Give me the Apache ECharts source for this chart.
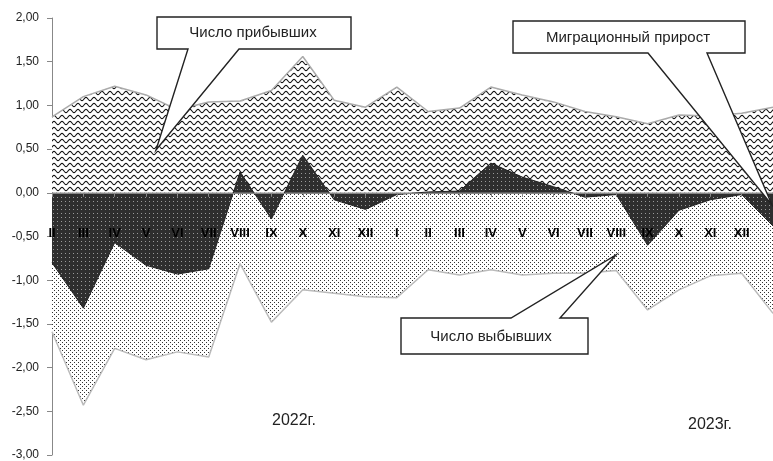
<!DOCTYPE html>
<html>
<head>
<meta charset="utf-8">
<title>Миграция</title>
<script src="https://cdn.jsdelivr.net/npm/echarts@6/dist/echarts.min.js"></script>
<style>
    html, body { margin: 0; padding: 0; background: #fff; }
    #migration_chart { width: 773px; height: 461px; }
</style>
</head>
<body>
<div id="migration_chart"></div>
<script>

// Data
// ------------------------------

var months = ['II', 'III', 'IV', 'V', 'VI', 'VII', 'VIII', 'IX', 'X', 'XI', 'XII',
              'I', 'II', 'III', 'IV', 'V', 'VI', 'VII', 'VIII', 'IX', 'X', 'XI', 'XII', 'I'];

// Число прибывших
var arrivals = [0.87, 1.10, 1.22, 1.12, 0.95, 1.04, 1.05, 1.17, 1.56, 1.06, 0.98, 1.21,
                0.93, 0.97, 1.21, 1.12, 1.04, 0.93, 0.87, 0.79, 0.89, 0.88, 0.91, 0.98];

// Число выбывших
var departures = [-1.59, -2.43, -1.78, -1.91, -1.82, -1.88, -0.81, -1.48, -1.11, -1.15, -1.19, -1.20,
                  -0.88, -0.94, -0.88, -0.94, -0.92, -0.92, -0.89, -1.34, -1.11, -0.95, -0.92, -1.38];

// Миграционный прирост
var netGrowth = [-0.80, -1.32, -0.57, -0.83, -0.93, -0.87, 0.24, -0.30, 0.43, -0.08, -0.19, -0.02,
                 0.01, 0.02, 0.34, 0.18, 0.07, -0.05, -0.02, -0.60, -0.20, -0.08, -0.02, -0.38];


// Fill patterns
// ------------------------------

var makePattern = function(w, h, draw) {
    var c = document.createElement('canvas');
    c.width = w;
    c.height = h;
    draw(c.getContext('2d'));
    return { image: c, repeat: 'repeat' };
};

// wavy lines
var wavePattern = makePattern(8, 6, function(ctx) {
    ctx.fillStyle = '#fff';
    ctx.fillRect(0, 0, 8, 6);
    ctx.strokeStyle = '#111';
    ctx.lineWidth = 1.1;
    ctx.beginPath();
    for (var x = -1; x <= 9; x += 0.5) {
        var y = 3 + 1.6 * Math.sin(2 * Math.PI * x / 8);
        if (x === -1) ctx.moveTo(x, y); else ctx.lineTo(x, y);
    }
    ctx.stroke();
});

// small dots on white
var dotPattern = makePattern(4, 4, function(ctx) {
    ctx.fillStyle = '#fff';
    ctx.fillRect(0, 0, 4, 4);
    ctx.fillStyle = '#333';
    ctx.fillRect(0, 0, 1, 1);
    ctx.fillRect(2, 2, 1, 1);
});

// light dots on dark
var darkPattern = makePattern(4, 4, function(ctx) {
    ctx.fillStyle = '#2e2e2e';
    ctx.fillRect(0, 0, 4, 4);
    ctx.fillStyle = '#9a9a9a';
    ctx.fillRect(1, 1, 1, 1);
});


// Callouts
// ------------------------------

var callout = function(points, text, cx, cy) {
    return [
        {
            type: 'polygon',
            z: 100,
            shape: { points: points },
            style: { fill: '#fff', stroke: '#222', lineWidth: 1.4 }
        },
        {
            type: 'text',
            z: 101,
            x: cx,
            y: cy,
            style: {
                text: text,
                fill: '#222',
                font: '15px Arial, "Liberation Sans", sans-serif',
                align: 'center',
                verticalAlign: 'middle'
            }
        }
    ];
};

var chartGraphics = []
    .concat(callout([[157, 17], [351, 17], [351, 49], [239, 49], [156, 150], [188, 49], [157, 49]],
        'Число прибывших', 253, 33))
    .concat(callout([[513, 21], [745, 21], [745, 53], [707, 53], [772, 205], [648, 53], [513, 53]],
        'Миграционный прирост', 628, 38))
    .concat(callout([[401, 318], [511, 318], [616, 255], [560, 318], [588, 318], [588, 354], [401, 354]],
        'Число выбывших', 491, 337))
    .concat([
        {
            type: 'text', z: 101, x: 272, y: 421,
            style: { text: '2022г.', fill: '#222', font: '16px Arial, "Liberation Sans", sans-serif', verticalAlign: 'middle' }
        },
        {
            type: 'text', z: 101, x: 688, y: 425,
            style: { text: '2023г.', fill: '#222', font: '16px Arial, "Liberation Sans", sans-serif', verticalAlign: 'middle' }
        }
    ]);


// Chart
// ------------------------------

var gridTop = 18;
var gridBottom = 6;
var chartHeight = 461;

// move the category axis up to the zero line (value range -3..2)
var plotHeight = chartHeight - gridTop - gridBottom;
var zeroOffset = -plotHeight * 3 / 5;

var chart_element = document.getElementById('migration_chart');
var chart = echarts.init(chart_element, null, { renderer: 'canvas' });

chart.setOption({
    animation: false,
    textStyle: {
        fontFamily: 'Arial, "Liberation Sans", sans-serif'
    },
    grid: {
        left: 52,
        right: 0,
        top: gridTop,
        bottom: gridBottom,
        containLabel: false,
        outerBoundsMode: 'none'
    },
    xAxis: {
        type: 'category',
        data: months,
        boundaryGap: false,
        position: 'bottom',
        offset: zeroOffset,
        z: 5,
        axisLine: {
            onZero: false,
            lineStyle: { color: '#888', width: 1 }
        },
        axisTick: {
            show: true,
            length: 4,
            lineStyle: { color: '#888' }
        },
        axisLabel: {
            margin: 34,
            interval: 0,
            color: '#000',
            fontWeight: 'bold',
            fontSize: 13,
            formatter: function(value, index) {
                return index === months.length - 1 ? '' : value;
            }
        },
        splitLine: { show: false }
    },
    yAxis: {
        type: 'value',
        min: -3,
        max: 2,
        interval: 0.5,
        axisLine: {
            show: true,
            lineStyle: { color: '#888' }
        },
        axisTick: {
            show: true,
            length: 5,
            lineStyle: { color: '#888' }
        },
        axisLabel: {
            margin: 13,
            color: '#222',
            fontSize: 12,
            formatter: function(v) {
                return v.toFixed(2).replace('.', ',');
            }
        },
        splitLine: { show: false }
    },
    series: [
        {
            name: 'Число прибывших',
            type: 'line',
            data: arrivals,
            symbol: 'none',
            z: 2,
            lineStyle: { color: '#aaa', width: 1.5 },
            areaStyle: { color: wavePattern, opacity: 1, origin: 0 }
        },
        {
            name: 'Число выбывших',
            type: 'line',
            data: departures,
            symbol: 'none',
            z: 2,
            lineStyle: { color: '#bbb', width: 1.5 },
            areaStyle: { color: dotPattern, opacity: 1, origin: 0 }
        },
        {
            name: 'Миграционный прирост',
            type: 'line',
            data: netGrowth,
            symbol: 'none',
            z: 3,
            lineStyle: { color: '#222', width: 1 },
            areaStyle: { color: darkPattern, opacity: 1, origin: 0 }
        }
    ],
    graphic: { elements: chartGraphics }
});
</script>
</body>
</html>
